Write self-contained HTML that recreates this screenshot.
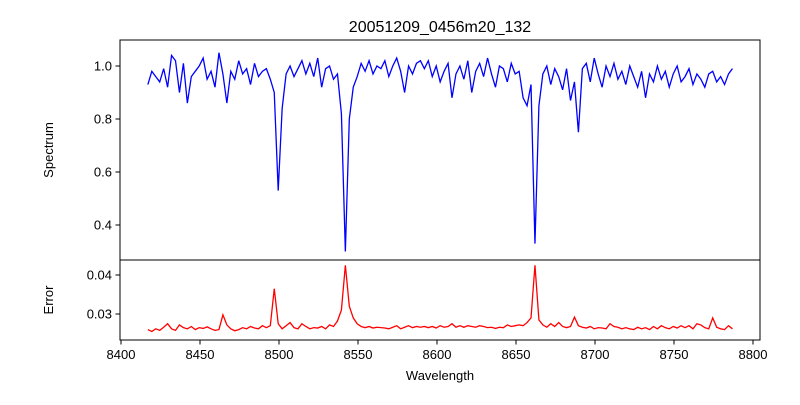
<!DOCTYPE html>
<html><head><meta charset="utf-8"><style>
body{margin:0;background:#fff;}
svg text{font-family:"Liberation Sans","DejaVu Sans",sans-serif;fill:#000;}
</style></head><body>
<svg width="800" height="400" viewBox="0 0 800 400" xmlns="http://www.w3.org/2000/svg">
<rect width="800" height="400" fill="#fff"/>
<text x="440" y="32" font-size="16" text-anchor="middle">20051209_0456m20_132</text>
<defs>
<clipPath id="c1"><rect x="120" y="40" width="640" height="220"/></clipPath>
<clipPath id="c2"><rect x="120" y="260" width="640" height="80"/></clipPath>
</defs>
<g id="topPanel"></g>
<g id="botPanel"></g>
<rect x="120" y="40" width="640" height="220" fill="none" stroke="#000" stroke-width="1"/>
<rect x="120" y="260" width="640" height="80" fill="none" stroke="#000" stroke-width="1"/>
<g id="axesG"></g>
<text x="440" y="380" font-size="13" text-anchor="middle">Wavelength</text>
<text transform="translate(53,150) rotate(-90)" font-size="13" text-anchor="middle">Spectrum</text>
<text transform="translate(53,300) rotate(-90)" font-size="13" text-anchor="middle">Error</text>
</svg>
<script>
const waveStart = 8417;
const waveStep = 2.5;
const spectrum = [
0.93,0.98,0.96,0.94,0.99,0.92,1.04,1.02,0.90,1.01,
0.86,0.96,0.98,1.00,1.03,0.95,0.98,0.92,1.05,0.97,
0.86,0.98,0.95,1.02,0.97,0.99,0.93,1.01,0.96,0.98,
0.99,0.95,0.90,0.53,0.84,0.97,1.00,0.96,0.99,1.02,
0.97,1.01,0.96,1.03,0.92,0.99,1.00,0.95,0.97,0.82,
0.30,0.80,0.92,0.96,1.01,0.98,1.02,0.97,1.00,0.99,
1.02,0.96,1.00,1.03,0.98,0.90,1.00,0.97,1.01,1.02,
0.99,1.02,0.96,1.00,0.94,0.98,1.01,0.88,0.97,1.00,
0.95,1.02,0.90,0.98,1.01,0.96,1.03,0.97,0.92,1.00,
0.99,0.94,1.01,0.97,0.98,0.88,0.85,0.93,0.33,0.85,
0.97,1.00,0.93,0.99,0.96,0.91,0.99,0.87,0.94,0.75,
0.99,1.01,0.94,1.03,0.97,0.92,1.00,0.96,1.01,0.95,
0.98,0.93,1.00,0.96,0.92,0.98,0.88,0.97,0.94,1.00,
0.95,0.98,0.92,0.97,1.00,0.94,0.96,0.99,0.93,0.97,
0.95,0.92,0.97,0.98,0.94,0.96,0.93,0.97,0.99];
const errors = [
.0260,.0255,.0262,.0258,.0266,.0275,.0262,.0258,.0272,.0265,
.0262,.0268,.0260,.0265,.0263,.0267,.0262,.0258,.0260,.0298,
.0272,.0262,.0257,.0260,.0265,.0262,.0268,.0264,.0262,.0270,
.0265,.0270,.0365,.0275,.0262,.0270,.0278,.0265,.0262,.0275,
.0268,.0262,.0265,.0264,.0268,.0262,.0272,.0268,.0282,.0310,
.0425,.0320,.0290,.0275,.0268,.0265,.0268,.0264,.0266,.0265,
.0264,.0262,.0266,.0270,.0262,.0266,.0270,.0265,.0268,.0266,
.0268,.0265,.0268,.0264,.0270,.0266,.0268,.0275,.0266,.0270,
.0266,.0270,.0268,.0266,.0270,.0268,.0265,.0266,.0263,.0266,
.0265,.0272,.0268,.0270,.0272,.0270,.0278,.0290,.0425,.0285,
.0272,.0266,.0275,.0268,.0278,.0268,.0265,.0268,.0292,.0270,
.0266,.0264,.0268,.0262,.0265,.0264,.0262,.0275,.0268,.0266,
.0262,.0265,.0262,.0260,.0266,.0262,.0265,.0260,.0268,.0262,
.0270,.0265,.0262,.0268,.0264,.0270,.0265,.0270,.0262,.0275,
.0272,.0265,.0262,.0290,.0266,.0262,.0260,.0270,.0262];
const xTicks = [8400,8450,8500,8550,8600,8650,8700,8750,8800];
const specTicks = [0.4,0.6,0.8,1.0];
const errTicks = [0.03,0.04];

const NS="http://www.w3.org/2000/svg";
const xs = w => 121 + (w-8400)*(632/400);
const ys = v => 66 + (1.0-v)*265;
const ye = v => 275 + (0.04-v)*3900;
function mk(tag, attrs, parent){const e=document.createElementNS(NS,tag);for(const k in attrs)e.setAttribute(k,attrs[k]);parent.appendChild(e);return e;}
const topG=document.getElementById('topPanel'), botG=document.getElementById('botPanel'), axesG=document.getElementById('axesG');
let d1='', d2='';
spectrum.forEach((v,i)=>{const x=xs(waveStart+i*waveStep);d1+=(i?'L':'M')+x.toFixed(2)+' '+ys(v).toFixed(2);});
errors.forEach((v,i)=>{const x=xs(waveStart+i*waveStep);d2+=(i?'L':'M')+x.toFixed(2)+' '+ye(v).toFixed(2);});
const p1=mk('path',{d:d1,fill:'none',stroke:'#0000ff','stroke-width':1.3,'clip-path':'url(#c1)'},topG);


const p2=mk('path',{d:d2,fill:'none',stroke:'#ff0000','stroke-width':1.3,'clip-path':'url(#c2)'},botG);


xTicks.forEach(t=>{const x=xs(t);
 const l=mk('line',{x1:x,x2:x,y1:340,y2:344.5,stroke:'#000'},axesG);
 
 
 const tx=mk('text',{x:x,y:359,'font-size':13,'text-anchor':'middle'},axesG);tx.textContent=t;
 
 
});
specTicks.forEach(t=>{const y=ys(t);
 const l=mk('line',{x1:115.5,x2:120,y1:y,y2:y,stroke:'#000'},axesG);
 
 
 const tx=mk('text',{x:112,y:y+4.5,'font-size':13,'text-anchor':'end'},axesG);tx.textContent=t.toFixed(1);
 
 
});
errTicks.forEach(t=>{const y=ye(t);
 const l=mk('line',{x1:115.5,x2:120,y1:y,y2:y,stroke:'#000'},axesG);
 
 
 const tx=mk('text',{x:112,y:y+4.5,'font-size':13,'text-anchor':'end'},axesG);tx.textContent=t.toFixed(2);
 
 
});
</script>
</body></html>
